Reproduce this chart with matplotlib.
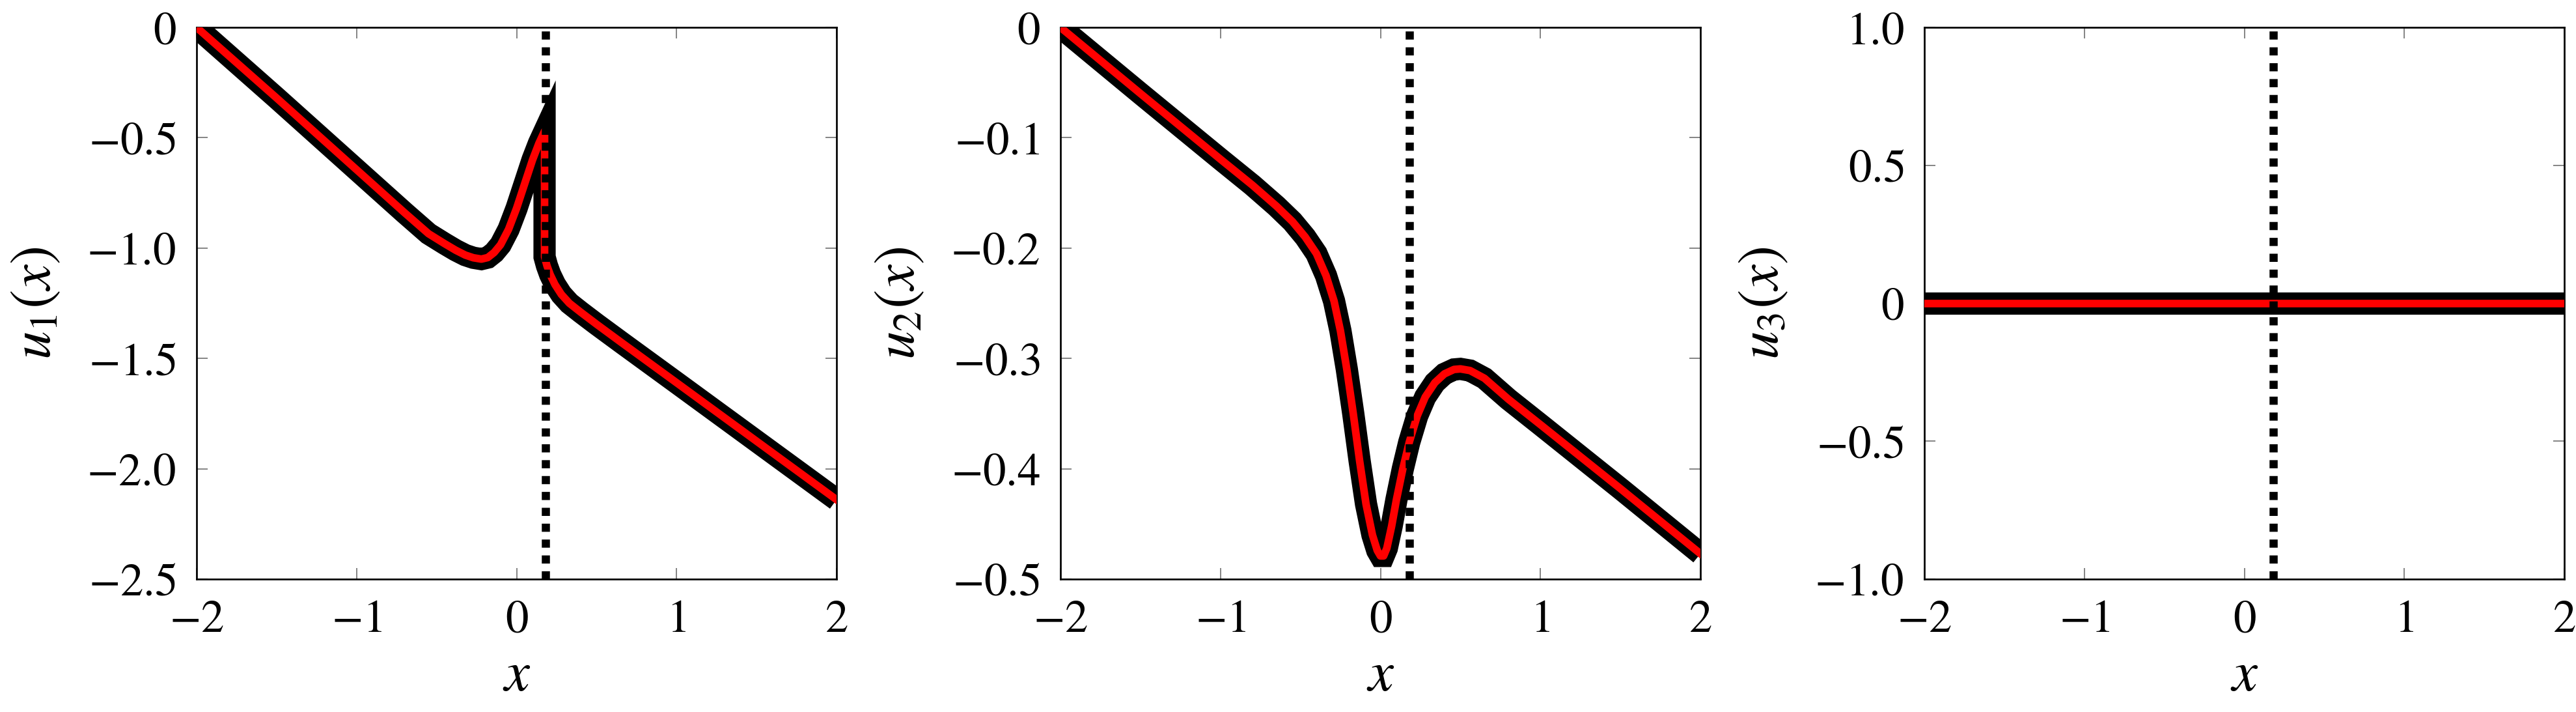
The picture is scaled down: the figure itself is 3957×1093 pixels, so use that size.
import matplotlib
matplotlib.use('Agg')
import matplotlib.pyplot as plt
from matplotlib.ticker import FixedLocator, FixedFormatter

plt.rcParams['font.family'] = ['Liberation Serif', 'DejaVu Serif']
plt.rcParams['mathtext.fontset'] = 'stix'

# values
x_u1 = [-2.0, -1.5, -1.0, -0.7, -0.55, -0.45, -0.38, -0.32, -0.27, -0.22, -0.18,
        -0.14, -0.1, -0.05, 0.0, 0.05, 0.1, 0.14, 0.175, 0.175, 0.19, 0.21,
        0.24, 0.28, 0.33, 0.4, 0.5, 0.65, 1.0, 1.5, 2.0]
u1 = [0.0, -0.32, -0.645, -0.84, -0.935, -0.98, -1.01, -1.032, -1.044, -1.05,
      -1.043, -1.02, -0.985, -0.915, -0.82, -0.71, -0.60, -0.525, -0.47, -1.04,
      -1.08, -1.12, -1.165, -1.21, -1.25, -1.29, -1.345, -1.425, -1.61, -1.875,
      -2.14]

x_u2 = [-2.0, -1.5, -1.0, -0.8, -0.65, -0.55, -0.47, -0.4, -0.34, -0.29, -0.25,
        -0.21, -0.17, -0.13, -0.09, -0.05, -0.02, 0.0, 0.02, 0.04, 0.07, 0.1,
        0.14, 0.18, 0.23, 0.28, 0.34, 0.4, 0.46, 0.5, 0.56, 0.65, 0.8, 1.0, 1.5,
        2.0]
u2 = [0.0, -0.06, -0.1195, -0.143, -0.162, -0.176, -0.19, -0.205, -0.225,
      -0.248, -0.275, -0.31, -0.35, -0.393, -0.432, -0.46, -0.474, -0.479,
      -0.479, -0.472, -0.452, -0.428, -0.40, -0.376, -0.352, -0.335, -0.322,
      -0.314, -0.31, -0.3095, -0.311, -0.318, -0.337, -0.36, -0.418, -0.477]

x_u3 = [-2.0, 2.0]
u3 = [0.0, 0.0]

x_mark = 0.18

x_ticks = [-2, -1, 0, 1, 2]
x_ticklabels = [r'$-2$', r'$-1$', r'$0$', r'$1$', r'$2$']

y_ticks = [[0, -0.5, -1.0, -1.5, -2.0, -2.5],
           [0, -0.1, -0.2, -0.3, -0.4, -0.5],
           [1.0, 0.5, 0, -0.5, -1.0]]
y_ticklabels = [[r'$0$', r'$-0.5$', r'$-1.0$', r'$-1.5$', r'$-2.0$', r'$-2.5$'],
                [r'$0$', r'$-0.1$', r'$-0.2$', r'$-0.3$', r'$-0.4$', r'$-0.5$'],
                [r'$1.0$', r'$0.5$', r'$0$', r'$-0.5$', r'$-1.0$']]
y_limits = [(-2.5, 0), (-0.5, 0), (-1.0, 1.0)]
y_names = [r'$u_1(x)$', r'$u_2(x)$', r'$u_3(x)$']

series = [(x_u1, u1), (x_u2, u2), (x_u3, u3)]

W, H = 3957, 1093
fig = plt.figure(figsize=(W / 300, H / 300), dpi=300)

# axes boxes in pixels
lefts = [302, 1629, 2956]
ax_w = 983
ax_bottom = 889
ax_h = 847


def draw_panel(ax, xs, ys, ylim, yt, ytl, yname):
    # thick black line under the red one
    ax.plot(xs, ys, color='black', lw=8.2, solid_joinstyle='miter',
            solid_capstyle='butt', zorder=2)
    ax.plot(xs, ys, color='red', lw=2.8, solid_joinstyle='round', zorder=3)
    # dotted vertical marker
    ax.axvline(x_mark, color='black', lw=3.0, linestyle=(0, (1, 0.95)),
               dash_capstyle='butt', zorder=4)

    ax.set_xlim(-2, 2)
    ax.set_ylim(*ylim)
    ax.xaxis.set_major_locator(FixedLocator(x_ticks))
    ax.xaxis.set_major_formatter(FixedFormatter(x_ticklabels))
    ax.yaxis.set_major_locator(FixedLocator(yt))
    ax.yaxis.set_major_formatter(FixedFormatter(ytl))
    ax.tick_params(direction='in', length=4, width=0.45, color='#808080',
                   top=True, right=True, labelsize=17, pad=7.5)
    for s in ax.spines.values():
        s.set_linewidth(0.65)
    ax.set_xlabel(r'$x$', fontsize=21, labelpad=3)
    ax.set_ylabel(yname, fontsize=21, labelpad=9)


for i in range(3):
    ax = fig.add_axes([lefts[i] / W, (H - ax_bottom) / H, ax_w / W, ax_h / H])
    draw_panel(ax, series[i][0], series[i][1], y_limits[i], y_ticks[i],
               y_ticklabels[i], y_names[i])

fig.savefig('out.png', dpi=300)
